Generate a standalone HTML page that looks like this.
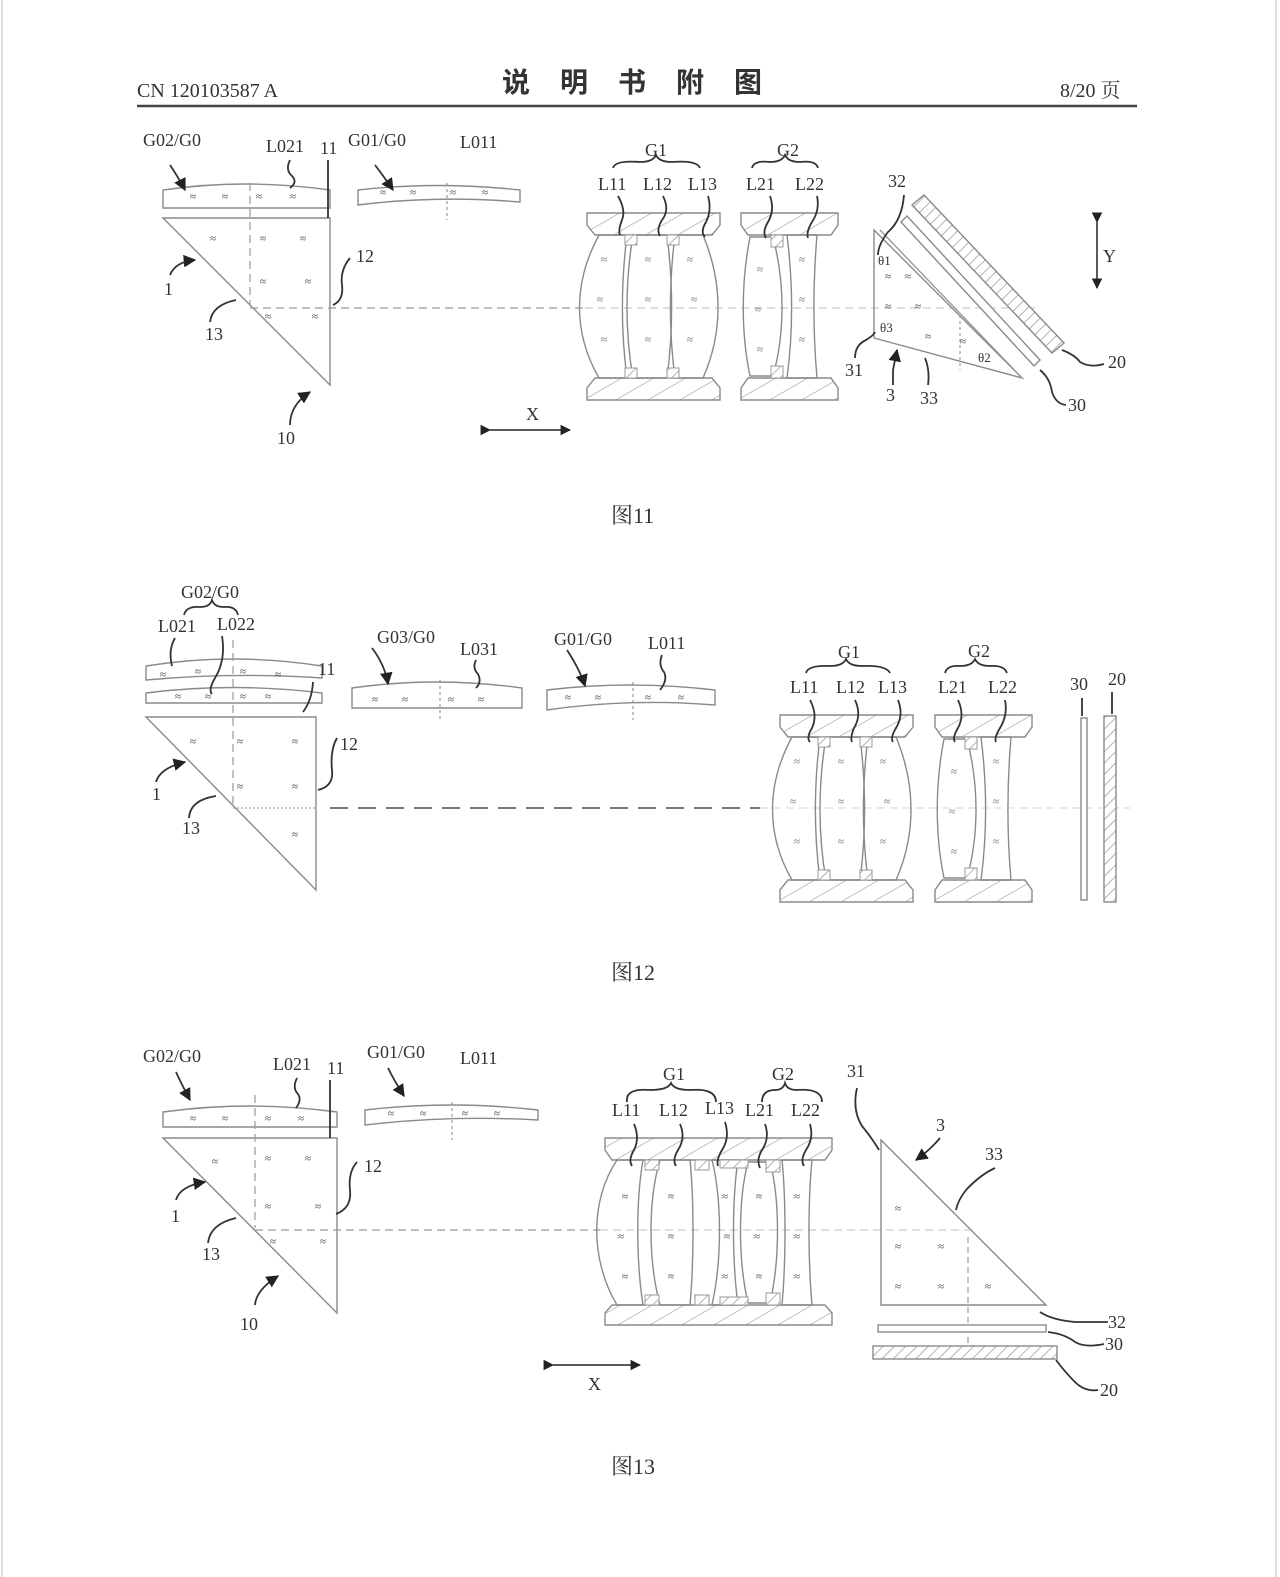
<!DOCTYPE html>
<html><head><meta charset="utf-8">
<style>
html,body{margin:0;padding:0;background:#fff;}
svg{display:block;}
text{font-family:"Liberation Serif","Noto Serif CJK SC",serif;fill:#333;}
.t{font-size:18px;}
.ln{fill:none;stroke:#8a8a8a;stroke-width:1.4;}
.dk{fill:none;stroke:#333;stroke-width:1.8;}
.ds{fill:none;stroke:#999;stroke-width:1.2;stroke-dasharray:8 5;}
.gl{font-size:11px;fill:#666;}
</style></head><body>
<svg width="1280" height="1577" viewBox="0 0 1280 1577" xmlns="http://www.w3.org/2000/svg">
<defs>
<pattern id="h" width="8" height="8" patternUnits="userSpaceOnUse" patternTransform="rotate(45)">
<rect width="8" height="8" fill="#fff"/><line x1="0" y1="0" x2="0" y2="8" stroke="#999" stroke-width="1.5"/></pattern>
<pattern id="hb" width="16" height="16" patternUnits="userSpaceOnUse" patternTransform="rotate(60)">
<rect width="16" height="16" fill="#fff"/><line x1="0" y1="0" x2="0" y2="16" stroke="#999" stroke-width="1.2"/></pattern>
<marker id="ar" viewBox="0 0 10 10" refX="9" refY="5" markerWidth="7" markerHeight="7" orient="auto"><path d="M0,0 L10,5 L0,10 z" fill="#222"/></marker>
<g id="g1">
<path d="M0,0 H133 V12 L125,22 H8 L0,12 Z" fill="url(#hb)" stroke="#8a8a8a" stroke-width="1.4"/>
<path d="M0,187 H133 V175 L125,165 H8 L0,175 Z" fill="url(#hb)" stroke="#8a8a8a" stroke-width="1.4"/>
<path class="ln" d="M12,22 C-14,70 -14,120 12,165 L40,165 C34,120 34,70 40,22 Z"/>
<path class="ln" d="M46,22 C38,70 38,120 46,165 L80,165 C86,120 86,70 80,22 Z"/>
<path class="ln" d="M88,22 C82,70 82,120 88,165 L116,165 C136,120 136,70 116,22 Z"/>
<rect x="38" y="22" width="12" height="10" fill="url(#h)" stroke="#999"/>
<rect x="80" y="22" width="12" height="10" fill="url(#h)" stroke="#999"/>
<rect x="38" y="155" width="12" height="10" fill="url(#h)" stroke="#999"/>
<rect x="80" y="155" width="12" height="10" fill="url(#h)" stroke="#999"/>
<text class="gl" x="14" y="50">≈</text><text class="gl" x="10" y="90">≈</text><text class="gl" x="14" y="130">≈</text>
<text class="gl" x="58" y="50">≈</text><text class="gl" x="58" y="90">≈</text><text class="gl" x="58" y="130">≈</text>
<text class="gl" x="100" y="50">≈</text><text class="gl" x="104" y="90">≈</text><text class="gl" x="100" y="130">≈</text>
</g>
<g id="g2">
<path d="M0,0 H97 V12 L90,22 H7 L0,12 Z" fill="url(#hb)" stroke="#8a8a8a" stroke-width="1.4"/>
<path d="M0,187 H97 V175 L90,165 H7 L0,175 Z" fill="url(#hb)" stroke="#8a8a8a" stroke-width="1.4"/>
<path class="ln" d="M9,24 C0,70 0,120 9,163 L32,163 C44,120 44,70 32,24 Z"/>
<path class="ln" d="M46,22 C52,70 52,120 46,165 L76,165 C72,120 72,70 76,22 Z"/>
<rect x="30" y="22" width="12" height="12" fill="url(#h)" stroke="#999"/>
<rect x="30" y="153" width="12" height="12" fill="url(#h)" stroke="#999"/>
<text class="gl" x="16" y="60">≈</text><text class="gl" x="14" y="100">≈</text><text class="gl" x="16" y="140">≈</text>
<text class="gl" x="58" y="50">≈</text><text class="gl" x="58" y="90">≈</text><text class="gl" x="58" y="130">≈</text>
</g>
</defs>
<line x1="2" y1="0" x2="2" y2="1577" stroke="#ddd" stroke-width="2"/>
<line x1="1276" y1="0" x2="1276" y2="1577" stroke="#ddd" stroke-width="2"/>

<!-- header -->
<text x="137" y="97" style="font-size:20px">CN 120103587 A</text>
<text x="502" y="92" style="font-size:28px;font-weight:bold;letter-spacing:30px;font-family:'Noto Sans CJK SC',sans-serif">说明书附图</text>
<text x="1060" y="97" style="font-size:20px">8/20 页</text>
<line x1="137" y1="106" x2="1137" y2="106" stroke="#444" stroke-width="2.5"/>

<!-- ================= FIG 11 ================= -->
<path class="ln" d="M163,190 Q245,178 330,190 V208 H163 Z"/>
<path class="ln" d="M163,218 H330 V385 Z"/>
<line class="ds" x1="250" y1="183" x2="250" y2="305"/>
<line class="ds" x1="250" y1="308" x2="585" y2="308"/>
<line class="ds" x1="585" y1="308" x2="1040" y2="308" style="stroke:#ccc"/>
<path class="ln" d="M358,190 Q438,181 520,190 V202 Q438,195 358,205 Z"/>
<line class="ds" x1="447" y1="183" x2="447" y2="220" style="stroke-dasharray:3 3"/>
<g class="gl"><text x="190" y="200">≈</text><text x="222" y="200">≈</text><text x="256" y="200">≈</text><text x="290" y="200">≈</text>
<text x="380" y="196">≈</text><text x="410" y="196">≈</text><text x="450" y="196">≈</text><text x="482" y="196">≈</text>
<text x="210" y="242">≈</text><text x="260" y="242">≈</text><text x="300" y="242">≈</text><text x="260" y="285">≈</text><text x="305" y="285">≈</text><text x="265" y="320">≈</text><text x="312" y="320">≈</text></g>
<use href="#g1" x="587" y="213"/>
<use href="#g2" x="741" y="213"/>
<!-- prism 3 -->
<path class="ln" d="M874,230 V338 L1022,378 Z"/>
<path class="ln" d="M880,230 L1022,378" style="stroke:#999"/>
<path d="M901,222 L907,216 L1040,360 L1034,366 Z" fill="#fff" stroke="#8a8a8a" stroke-width="1.4"/>
<path d="M912,205 L924,195 L1064,343 L1052,353 Z" fill="url(#h)" stroke="#8a8a8a" stroke-width="1.4"/>
<g class="gl"><text x="885" y="280">≈</text><text x="905" y="280">≈</text><text x="885" y="310">≈</text><text x="915" y="310">≈</text><text x="925" y="340">≈</text><text x="960" y="345">≈</text></g>
<text x="878" y="265" style="font-size:13px">θ1</text>
<text x="880" y="332" style="font-size:13px">θ3</text>
<text x="978" y="362" style="font-size:13px">θ2</text>
<line class="ds" x1="960" y1="315" x2="960" y2="370" style="stroke-dasharray:3 3"/>
<line x1="1097" y1="222" x2="1097" y2="288" stroke="#222" stroke-width="1.5" marker-start="url(#ar)" marker-end="url(#ar)"/>
<text class="t" x="1103" y="262">Y</text>
<line x1="490" y1="430" x2="570" y2="430" stroke="#222" stroke-width="1.5" marker-start="url(#ar)" marker-end="url(#ar)"/>
<text class="t" x="526" y="420">X</text>
<g class="t">
<text x="143" y="146">G02/G0</text><text x="266" y="152">L021</text><text x="320" y="154">11</text>
<text x="348" y="146">G01/G0</text><text x="460" y="148">L011</text>
<text x="356" y="262">12</text><text x="164" y="295">1</text><text x="205" y="340">13</text><text x="277" y="444">10</text>
<text x="645" y="156">G1</text><text x="777" y="156">G2</text>
<text x="598" y="190">L11</text><text x="643" y="190">L12</text><text x="688" y="190">L13</text>
<text x="746" y="190">L21</text><text x="795" y="190">L22</text>
<text x="888" y="187">32</text><text x="845" y="376">31</text><text x="886" y="401">3</text><text x="920" y="404">33</text>
<text x="1108" y="368">20</text><text x="1068" y="411">30</text>
</g>
<g class="dk">
<path d="M170,165 Q180,180 185,190" marker-end="url(#ar)"/>
<path d="M375,165 Q385,178 393,190" marker-end="url(#ar)"/>
<path d="M290,160 Q285,170 292,176 Q298,182 290,188"/>
<path d="M328,160 V218"/>
<path d="M350,258 Q340,270 342,285 Q344,300 333,305"/>
<path d="M170,275 Q175,262 195,260" marker-end="url(#ar)"/>
<path d="M210,322 Q212,305 236,300"/>
<path d="M290,425 Q290,405 310,392" marker-end="url(#ar)"/>
<path d="M618,196 Q626,210 622,220 Q618,230 620,235"/>
<path d="M663,196 Q670,210 662,220 Q656,230 660,236"/>
<path d="M708,196 Q712,210 706,222 Q700,232 705,237"/>
<path d="M770,196 Q775,210 768,222 Q762,232 766,238"/>
<path d="M817,196 Q820,210 812,222 Q806,232 808,238"/>
<path d="M904,195 Q902,220 888,232 Q878,245 878,255"/>
<path d="M855,358 Q855,345 866,340 Q874,335 875,332"/>
<path d="M893,385 V370 L897,350" marker-end="url(#ar)"/>
<path d="M928,385 Q930,370 925,358"/>
<path d="M1062,350 Q1075,355 1080,362 Q1090,368 1104,364"/>
<path d="M1040,370 Q1050,378 1052,392 Q1056,404 1066,405"/>
<path d="M613,168 Q615,160 640,162 Q653,162 656,155 Q659,162 672,162 Q697,160 700,168"/>
<path d="M752,168 Q754,160 770,162 Q782,162 785,155 Q788,162 800,162 Q816,160 818,168"/>
</g>
<text x="611" y="523" style="font-size:22px">图11</text>

<!-- ================= FIG 12 ================= -->
<path class="ln" d="M146,666 Q232,652 322,666 V678 Q232,672 146,680 Z"/>
<path class="ln" d="M146,693 Q232,682 322,693 V703 H146 Z"/>
<path class="ln" d="M146,717 H316 V890 Z"/>
<line class="ds" x1="233" y1="640" x2="233" y2="806"/>
<line x1="233" y1="808" x2="316" y2="808" stroke="#aaa" stroke-width="1.2" stroke-dasharray="2 2"/>
<line class="ds" x1="330" y1="808" x2="760" y2="808" style="stroke:#666;stroke-width:1.8;stroke-dasharray:18 10"/>
<line class="ds" x1="760" y1="808" x2="1130" y2="808" style="stroke:#ddd"/>
<path class="ln" d="M352,688 Q436,676 522,688 V708 H352 Z"/>
<line class="ds" x1="440" y1="680" x2="440" y2="720" style="stroke-dasharray:3 3"/>
<path class="ln" d="M547,690 Q630,680 715,690 V705 Q630,698 547,710 Z"/>
<line class="ds" x1="633" y1="682" x2="633" y2="720" style="stroke-dasharray:3 3"/>
<g class="gl"><text x="160" y="678">≈</text><text x="195" y="675">≈</text><text x="240" y="675">≈</text><text x="275" y="678">≈</text>
<text x="175" y="700">≈</text><text x="205" y="700">≈</text><text x="240" y="700">≈</text><text x="265" y="700">≈</text>
<text x="372" y="703">≈</text><text x="402" y="703">≈</text><text x="448" y="703">≈</text><text x="478" y="703">≈</text>
<text x="565" y="701">≈</text><text x="595" y="701">≈</text><text x="645" y="701">≈</text><text x="678" y="701">≈</text>
<text x="190" y="745">≈</text><text x="237" y="745">≈</text><text x="292" y="745">≈</text><text x="237" y="790">≈</text><text x="292" y="790">≈</text><text x="292" y="838">≈</text></g>
<use href="#g1" x="780" y="715"/>
<use href="#g2" x="935" y="715"/>
<rect x="1081" y="718" width="6" height="182" fill="#fff" stroke="#8a8a8a" stroke-width="1.4"/>
<rect x="1104" y="716" width="12" height="186" fill="url(#h)" stroke="#8a8a8a" stroke-width="1.4"/>
<g class="t">
<text x="181" y="598">G02/G0</text><text x="158" y="632">L021</text><text x="217" y="630">L022</text><text x="318" y="675">11</text>
<text x="377" y="643">G03/G0</text><text x="460" y="655">L031</text>
<text x="554" y="645">G01/G0</text><text x="648" y="649">L011</text>
<text x="340" y="750">12</text><text x="152" y="800">1</text><text x="182" y="834">13</text>
<text x="838" y="658">G1</text><text x="968" y="657">G2</text>
<text x="790" y="693">L11</text><text x="836" y="693">L12</text><text x="878" y="693">L13</text>
<text x="938" y="693">L21</text><text x="988" y="693">L22</text>
<text x="1070" y="690">30</text><text x="1108" y="685">20</text>
</g>
<g class="dk">
<path d="M184,615 Q186,606 200,607 Q210,607 212,600 Q214,607 224,607 Q236,606 238,615"/>
<path d="M175,638 Q168,650 172,666"/>
<path d="M222,636 Q226,660 215,678 Q208,690 212,694"/>
<path d="M313,682 Q312,700 303,712"/>
<path d="M337,738 Q330,750 332,770 Q334,786 318,790"/>
<path d="M156,782 Q160,768 185,762" marker-end="url(#ar)"/>
<path d="M189,818 Q190,800 216,796"/>
<path d="M372,648 Q385,665 388,684" marker-end="url(#ar)"/>
<path d="M476,660 Q472,668 478,674 Q482,682 476,688"/>
<path d="M567,650 Q580,670 585,686" marker-end="url(#ar)"/>
<path d="M662,655 Q658,665 664,672 Q668,680 660,690"/>
<path d="M806,673 Q808,665 830,666 Q843,666 846,659 Q849,666 862,666 Q886,665 890,673"/>
<path d="M945,673 Q947,665 960,666 Q972,666 975,659 Q978,666 990,666 Q1004,665 1007,673"/>
<path d="M810,700 Q818,715 812,728 Q806,738 810,742"/>
<path d="M855,700 Q862,715 854,728 Q850,738 852,742"/>
<path d="M898,700 Q904,715 896,728 Q890,738 893,742"/>
<path d="M958,700 Q965,715 958,728 Q952,738 955,742"/>
<path d="M1005,700 Q1008,715 1000,728 Q994,738 996,742"/>
<path d="M1082,698 V716"/><path d="M1112,692 V714"/>
</g>
<text x="611" y="980" style="font-size:22px">图12</text>

<!-- ================= FIG 13 ================= -->
<path class="ln" d="M163,1112 Q250,1100 337,1112 V1127 H163 Z"/>
<path class="ln" d="M163,1138 H337 V1313 Z"/>
<line class="ds" x1="255" y1="1095" x2="255" y2="1228"/>
<line class="ds" x1="255" y1="1230" x2="600" y2="1230"/>
<line class="ds" x1="600" y1="1230" x2="970" y2="1230" style="stroke:#ccc"/>
<path class="ln" d="M365,1110 Q450,1100 538,1110 V1120 Q450,1115 365,1125 Z"/>
<line class="ds" x1="452" y1="1102" x2="452" y2="1140" style="stroke-dasharray:3 3"/>
<g class="gl"><text x="190" y="1122">≈</text><text x="222" y="1122">≈</text><text x="265" y="1122">≈</text><text x="298" y="1122">≈</text>
<text x="388" y="1117">≈</text><text x="420" y="1117">≈</text><text x="462" y="1117">≈</text><text x="494" y="1117">≈</text>
<text x="212" y="1165">≈</text><text x="265" y="1162">≈</text><text x="305" y="1162">≈</text><text x="265" y="1210">≈</text><text x="315" y="1210">≈</text><text x="270" y="1245">≈</text><text x="320" y="1245">≈</text></g>
<path d="M605,1138 H832 V1150 L825,1160 H612 L605,1150 Z" fill="url(#hb)" stroke="#8a8a8a" stroke-width="1.4"/>
<path d="M605,1325 H832 V1313 L825,1305 H612 L605,1313 Z" fill="url(#hb)" stroke="#8a8a8a" stroke-width="1.4"/>
<path class="ln" d="M617,1160 C590,1200 590,1260 617,1305 L643,1305 C636,1260 636,1200 643,1160 Z"/>
<path class="ln" d="M660,1160 C648,1200 648,1260 660,1305 L690,1305 C694,1260 694,1200 690,1160 Z"/>
<path class="ln" d="M712,1160 C722,1200 722,1260 712,1305 L738,1305 C732,1260 732,1200 738,1160 Z"/>
<path class="ln" d="M748,1162 C738,1200 738,1260 748,1303 L770,1303 C780,1260 780,1200 770,1162 Z"/>
<path class="ln" d="M782,1160 C786,1200 786,1260 782,1305 L812,1305 C808,1260 808,1200 812,1160 Z"/>
<rect x="645" y="1160" width="14" height="10" fill="url(#h)" stroke="#999"/><rect x="645" y="1295" width="14" height="10" fill="url(#h)" stroke="#999"/>
<rect x="695" y="1160" width="14" height="10" fill="url(#h)" stroke="#999"/><rect x="695" y="1295" width="14" height="10" fill="url(#h)" stroke="#999"/>
<rect x="720" y="1160" width="28" height="8" fill="url(#h)" stroke="#999"/><rect x="720" y="1297" width="28" height="8" fill="url(#h)" stroke="#999"/>
<rect x="766" y="1160" width="14" height="12" fill="url(#h)" stroke="#999"/><rect x="766" y="1293" width="14" height="12" fill="url(#h)" stroke="#999"/>
<g class="gl"><text x="622" y="1200">≈</text><text x="618" y="1240">≈</text><text x="622" y="1280">≈</text>
<text x="668" y="1200">≈</text><text x="668" y="1240">≈</text><text x="668" y="1280">≈</text>
<text x="722" y="1200">≈</text><text x="724" y="1240">≈</text><text x="722" y="1280">≈</text>
<text x="756" y="1200">≈</text><text x="754" y="1240">≈</text><text x="756" y="1280">≈</text>
<text x="794" y="1200">≈</text><text x="794" y="1240">≈</text><text x="794" y="1280">≈</text></g>
<path class="ln" d="M881,1140 V1305 H1046 Z"/>
<line class="ds" x1="968" y1="1237" x2="968" y2="1355" style="stroke-dasharray:6 4"/>
<g class="gl"><text x="895" y="1212">≈</text><text x="895" y="1250">≈</text><text x="938" y="1250">≈</text><text x="895" y="1290">≈</text><text x="938" y="1290">≈</text><text x="985" y="1290">≈</text></g>
<rect x="878" y="1325" width="168" height="7" fill="#fff" stroke="#8a8a8a" stroke-width="1.4"/>
<rect x="873" y="1346" width="184" height="13" fill="url(#h)" stroke="#8a8a8a" stroke-width="1.4"/>
<line x1="553" y1="1365" x2="640" y2="1365" stroke="#222" stroke-width="1.5" marker-start="url(#ar)" marker-end="url(#ar)"/>
<text class="t" x="588" y="1390">X</text>
<g class="t">
<text x="143" y="1062">G02/G0</text><text x="273" y="1070">L021</text><text x="327" y="1074">11</text>
<text x="367" y="1058">G01/G0</text><text x="460" y="1064">L011</text>
<text x="364" y="1172">12</text><text x="171" y="1222">1</text><text x="202" y="1260">13</text><text x="240" y="1330">10</text>
<text x="663" y="1080">G1</text><text x="772" y="1080">G2</text>
<text x="612" y="1116">L11</text><text x="659" y="1116">L12</text><text x="705" y="1114">L13</text>
<text x="745" y="1116">L21</text><text x="791" y="1116">L22</text>
<text x="847" y="1077">31</text><text x="936" y="1131">3</text><text x="985" y="1160">33</text>
<text x="1108" y="1328">32</text><text x="1105" y="1350">30</text><text x="1100" y="1396">20</text>
</g>
<g class="dk">
<path d="M176,1072 Q182,1085 190,1100" marker-end="url(#ar)"/>
<path d="M388,1068 Q395,1082 404,1096" marker-end="url(#ar)"/>
<path d="M297,1078 Q292,1088 298,1094 Q302,1100 296,1108"/>
<path d="M330,1080 V1138"/>
<path d="M357,1162 Q348,1172 350,1190 Q352,1208 336,1214"/>
<path d="M176,1200 Q180,1186 205,1182" marker-end="url(#ar)"/>
<path d="M208,1243 Q210,1224 236,1218"/>
<path d="M255,1305 Q256,1290 278,1276" marker-end="url(#ar)"/>
<path d="M627,1102 Q625,1088 650,1090 Q668,1090 671,1083 Q674,1090 690,1090 Q716,1088 716,1102"/>
<path d="M762,1102 Q762,1090 775,1090 Q783,1090 785,1083 Q787,1090 797,1090 Q822,1088 822,1102"/>
<path d="M634,1124 Q640,1138 634,1150 Q628,1160 632,1166"/>
<path d="M680,1124 Q686,1138 678,1150 Q672,1160 676,1166"/>
<path d="M725,1122 Q730,1138 722,1150 Q716,1160 718,1166"/>
<path d="M765,1124 Q770,1138 762,1150 Q756,1160 760,1168"/>
<path d="M810,1124 Q814,1138 806,1150 Q800,1160 804,1166"/>
<path d="M857,1088 Q852,1110 862,1126 Q872,1138 879,1150"/>
<path d="M940,1138 Q930,1150 916,1160" marker-end="url(#ar)"/>
<path d="M995,1168 Q980,1175 966,1190 Q958,1200 956,1210"/>
<path d="M1040,1312 Q1052,1320 1075,1322 Q1095,1322 1108,1322"/>
<path d="M1048,1332 Q1065,1334 1075,1342 Q1085,1348 1104,1344"/>
<path d="M1056,1360 Q1065,1372 1075,1382 Q1085,1392 1098,1390"/>
</g>
<text x="611" y="1474" style="font-size:22px">图13</text>
</svg>
</body></html>
